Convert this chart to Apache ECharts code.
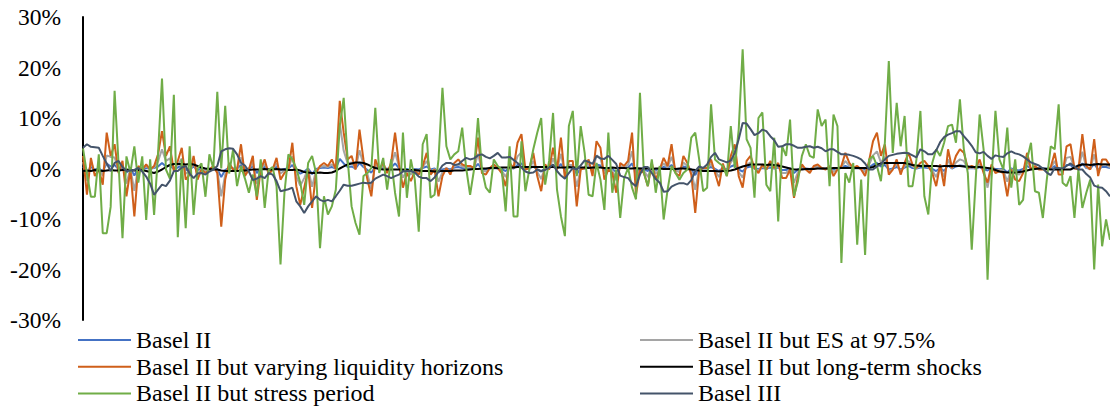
<!DOCTYPE html>
<html>
<head>
<meta charset="utf-8">
<script src="https://cdn.jsdelivr.net/npm/echarts@6/dist/echarts.min.js"></script>
<style>
  html, body { margin: 0; padding: 0; background: #fff; overflow: hidden; }
  #chart { width: 1110px; height: 409px; }
</style>
</head>
<body>
<div id="chart"></div>
<script>
// Daily P&L-style percentage changes for each capital measure (values in %)
const seriesNames = [
  'Basel II',
  'Basel II but ES at 97.5%',
  'Basel II but varying liquidity horizons',
  'Basel II but long-term shocks',
  'Basel II but stress period',
  'Basel III'
];

const baselII = [
  0.4,-0.8,0.3,-0.2,0.0,-0.5,1.0,0.4,0.7,-0.1,
  0.2,-0.8,0.0,-1.4,0.1,0.0,0.1,0.0,0.1,0.4,
  1.1,0.4,0.6,-0.1,0.2,0.6,-0.3,-0.2,0.4,-0.3,
  0.0,-0.1,0.0,0.1,-0.1,-1.7,-0.3,0.2,0.0,0.0,
  0.7,-0.2,0.0,0.4,-0.9,0.0,0.3,-0.2,0.0,0.3,
  -0.3,-0.1,0.0,0.7,-0.5,-1.0,-0.6,0.0,-1.1,-0.1,
  0.1,0.2,0.1,0.3,0.0,1.9,1.0,0.3,0.4,0.0,
  1.1,0.3,-0.3,-0.8,0.3,0.0,0.2,-0.1,0.2,1.0,
  0.1,-0.5,-0.1,-0.4,-0.1,-0.2,0.1,0.4,-0.2,0.0,
  -0.8,-0.2,0.0,-0.2,0.2,0.3,0.1,0.1,0.1,0.0,
  0.9,-0.1,-0.2,0.0,0.1,0.0,-0.1,-0.5,0.2,0.0,
  0.7,1.0,0.0,0.0,0.4,-0.2,-0.6,0.1,0.0,0.6,
  0.0,0.9,-0.3,0.2,0.2,-1.1,0.0,0.0,0.3,-0.2,
  0.8,0.6,-0.3,0.0,-0.1,-0.7,0.2,0.1,0.2,1.0,
  -0.8,0.0,-0.1,-0.5,0.2,-0.3,0.0,0.3,0.1,0.7,
  -0.1,-0.2,0.4,0.2,-0.2,-1.3,0.0,0.0,0.0,0.3,
  -0.1,-0.5,0.1,-0.2,0.4,0.7,-0.2,-0.6,0.2,0.4,
  0.0,-0.1,0.1,0.0,0.2,0.0,0.2,-0.3,-0.3,0.0,
  -0.9,-0.2,0.1,0.0,-0.1,0.1,0.1,0.0,0.0,0.1,
  -0.2,0.0,0.1,0.5,0.2,0.0,0.1,0.0,-0.2,0.2,
  0.8,1.1,0.4,0.7,-0.2,0.0,0.3,-0.2,0.2,0.5,
  0.1,0.0,0.2,0.2,0.1,-0.1,-0.5,0.1,-0.5,0.6,
  0.0,0.4,0.6,0.5,0.0,0.1,0.0,0.3,-0.1,-0.4,
  0.1,-0.1,-0.1,-0.1,-0.8,0.0,-0.3,-0.4,-0.1,0.5,
  0.0,0.1,0.0,0.0,0.0,0.0,0.5,-0.2,-0.2,0.7,
  0.7,0.0,0.0,1.0,0.1,0.0,0.9,-0.2,0.3,0.3,
  0.1
];

const esAt975 = [
  1.3,-2.4,1.2,-0.6,0.0,-1.4,2.6,2.3,2.2,-0.3,
  0.6,-3.0,0.0,-4.4,0.3,0.0,0.4,-0.1,0.2,1.4,
  3.8,1.5,2.0,-0.1,0.7,2.0,-1.0,-0.5,1.1,-1.1,
  -0.1,-0.4,-0.1,0.2,-0.5,-5.5,-1.2,0.5,-0.1,0.0,
  2.2,-0.7,-0.1,1.2,-3.0,-0.1,0.9,-0.6,-0.1,1.0,
  -1.0,-0.4,-0.1,2.4,-1.6,-3.4,-1.9,-0.1,-3.6,-0.4,
  0.3,0.5,0.3,0.8,0.0,9.0,3.5,1.0,1.2,-0.1,
  3.6,0.8,-1.1,-4.0,0.8,-0.1,0.5,-0.4,0.5,3.2,
  0.4,-1.8,-0.4,-1.2,-0.2,-0.6,0.3,1.5,-0.6,-0.1,
  -2.6,-0.7,0.0,-0.6,0.5,0.9,0.4,0.2,0.3,0.0,
  2.9,-0.4,-0.6,0.0,0.4,0.0,-0.4,-1.7,0.5,0.0,
  2.4,3.2,-0.1,0.0,1.5,-0.7,-2.1,0.4,-0.1,2.0,
  -0.1,2.9,-1.0,0.7,0.7,-3.6,-0.1,0.0,0.9,-0.7,
  2.6,2.0,-1.0,-0.1,-0.4,-2.3,0.5,0.2,0.7,3.4,
  -2.5,-0.1,-0.4,-1.7,0.5,-1.0,-0.1,1.0,0.2,2.3,
  -0.4,-0.7,1.2,0.5,-0.6,-4.2,-0.1,0.0,0.0,0.9,
  -0.4,-1.7,0.5,-0.7,1.2,2.3,-0.7,-1.8,0.7,1.2,
  0.0,-0.4,0.4,-0.1,0.7,0.0,0.5,-0.9,-0.9,-0.1,
  -2.8,-0.7,0.4,-0.1,-0.4,0.2,0.4,0.0,-0.1,0.2,
  -0.7,-0.1,0.2,1.5,0.5,0.0,0.2,-0.1,-0.7,0.7,
  2.6,3.4,1.2,2.3,-0.6,-0.1,0.9,-0.6,0.5,1.5,
  0.4,0.0,0.5,0.7,0.2,-0.4,-1.7,0.4,-1.7,1.8,
  0.0,1.2,1.8,1.5,0.0,0.2,0.0,0.9,-0.4,-3.8,
  0.4,-0.4,-0.2,-0.4,-2.6,-0.1,-1.0,-1.2,-0.4,1.5,
  -0.1,0.2,-0.1,-0.1,-0.1,0.1,1.5,-0.6,-0.6,2.1,
  2.3,0.0,-0.1,3.3,0.2,-0.1,2.8,-0.7,0.9,0.9,
  0.2
];

const varyingLiquidity = [
  2.5,-5.2,2.1,-1.5,-0.2,-3.2,7.1,2.5,4.8,-0.9,
  1.5,-5.5,-0.2,-9.5,0.5,-0.2,0.8,-0.2,0.5,2.8,
  7.4,2.5,4.4,-0.5,1.5,4.1,-2.2,-1.2,2.5,-2.2,
  -0.2,-0.9,-0.2,0.5,-0.9,-11.5,-2.2,1.1,-0.2,-0.2,
  4.8,-1.5,-0.2,2.5,-6.2,-0.2,1.8,-1.2,-0.2,2.1,
  -2.2,-0.9,-0.2,5.1,-3.5,-7.2,-3.8,-0.2,-7.8,-0.9,
  0.5,1.1,0.5,1.8,-0.2,13.4,7.1,1.8,2.5,-0.2,
  7.7,1.8,-2.2,-5.5,1.8,-0.2,1.1,-0.9,1.1,7.1,
  0.8,-3.8,-0.9,-2.5,-0.5,-1.2,0.5,3.1,-1.2,-0.2,
  -5.5,-1.5,0.1,-1.2,1.1,1.8,0.8,0.5,0.5,0.1,
  6.1,-0.9,-1.2,0.1,0.8,0.1,-0.9,-3.5,1.1,0.1,
  5.1,6.8,-0.2,0.1,3.1,-1.5,-4.5,0.8,-0.2,4.1,
  -0.2,6.1,-2.0,1.5,1.5,-7.5,-0.2,0.1,1.8,-1.5,
  5.4,4.1,-2.2,-0.2,-0.9,-4.8,1.1,0.5,1.5,7.1,
  -5.2,-0.2,-0.9,-3.5,1.1,-2.2,-0.2,2.1,0.5,4.8,
  -0.9,-1.5,2.5,1.1,-1.2,-8.8,-0.2,0.1,0.1,1.8,
  -0.9,-3.5,1.0,-1.5,2.5,4.8,-1.5,-3.8,1.5,2.5,
  0.1,-0.9,0.8,-0.2,1.5,0.1,1.1,-1.9,-1.9,-0.2,
  -5.8,-1.5,0.8,-0.2,-0.9,0.5,0.8,0.1,-0.2,0.5,
  -1.5,-0.2,0.5,3.1,1.1,0.1,0.5,-0.2,-1.5,1.5,
  5.4,7.1,2.5,4.8,-1.2,-0.2,1.8,-1.2,1.1,3.1,
  0.8,0.1,1.1,1.5,0.5,-0.9,-3.5,0.8,-3.5,3.8,
  0.1,2.5,3.8,3.1,0.1,0.5,0.1,1.8,-0.9,-2.8,
  0.8,-0.9,-0.5,-0.9,-5.5,-0.2,-2.2,-2.5,-0.9,3.1,
  -0.2,0.5,-0.2,-0.2,-0.2,0.3,3.1,-1.2,-1.2,4.4,
  4.8,0.1,-0.2,6.8,0.5,-0.2,5.8,-1.5,1.8,1.8,
  0.5
];

const longTermShocks = [
  -0.5,-0.4,-0.5,-0.3,-0.4,-0.5,-0.4,-0.3,-0.4,-0.4,
  -0.3,-0.2,-0.3,-0.4,-0.3,-0.3,-0.5,-0.7,-0.9,-0.6,
  -0.2,0.3,0.7,0.9,0.9,0.9,0.8,0.9,0.8,0.5,
  0.2,0.0,-0.1,-0.2,-0.2,-0.4,-0.5,-0.5,-0.5,-0.5,
  -0.4,-0.4,-0.3,-0.2,-0.2,-0.2,-0.1,-0.2,-0.2,-0.1,
  -0.2,-0.2,-0.3,-0.3,-0.2,-0.4,-0.7,-0.8,-0.9,-0.9,
  -0.8,-0.9,-0.9,-0.8,-0.5,0.0,0.4,0.8,1.0,1.2,
  1.2,1.1,0.8,0.4,0.1,-0.1,-0.2,-0.2,-0.2,-0.2,
  -0.2,-0.2,-0.3,-0.3,-0.3,-0.4,-0.5,-0.5,-0.5,-0.6,
  -0.5,-0.5,-0.5,-0.5,-0.4,-0.4,-0.4,-0.3,-0.2,-0.1,
  -0.1,0.0,0.0,0.1,0.1,0.1,0.2,0.2,0.2,0.2,
  0.3,0.3,0.3,0.3,0.3,0.3,0.3,0.3,0.3,0.3,
  0.2,0.2,0.2,0.3,0.2,0.2,0.2,0.2,0.1,0.2,
  0.2,0.2,0.1,0.1,0.2,0.1,0.1,0.1,0.0,0.0,
  0.1,0.0,0.0,0.0,-0.1,0.0,0.0,-0.1,-0.1,-0.1,
  -0.1,0.0,0.0,-0.1,-0.2,-0.3,-0.4,-0.5,-0.5,-0.5,
  -0.5,-0.6,-0.5,-0.5,-0.4,-0.2,0.1,0.4,0.6,0.8,
  0.8,0.8,0.8,0.7,0.8,0.7,0.6,0.4,0.2,0.0,
  -0.2,-0.2,-0.2,-0.1,-0.1,-0.1,0.0,0.0,0.0,0.0,
  0.1,0.1,0.1,0.1,0.1,0.1,0.1,0.1,0.1,0.1,
  0.3,0.7,1.0,1.1,1.1,1.1,1.1,1.1,1.1,0.9,
  0.7,0.6,0.5,0.5,0.5,0.5,0.5,0.4,0.5,0.5,
  0.5,0.5,0.5,0.4,0.4,0.3,0.3,0.3,0.2,0.1,
  0.0,-0.3,-0.6,-0.7,-0.8,-0.8,-0.8,-0.7,-0.6,-0.4,
  -0.2,-0.1,0.0,0.0,-0.1,-0.2,-0.2,-0.2,-0.2,-0.2,
  -0.2,0.2,0.6,0.8,0.8,0.7,0.8,0.9,0.8,0.8,
  0.8
];

const stressPeriod = [
  4,-1,-5.6,-5.6,2.8,-12.8,-12.8,-7.6,15.4,1,
  -13.8,2.4,-0.8,4.4,-2.8,2.4,-10.2,1.8,-9.2,3,
  17.8,-0.2,-2,14.6,-13.6,1.8,-11.8,4.4,-9.2,0,
  1,-5.6,2.8,0,15.2,0,12.4,-1,3.8,-3.5,
  0.5,-2,-4.8,-1.2,-5.5,1.8,-7.8,-0.3,0.3,-3.5,
  -19,-4.8,2.8,1.8,0,-2.8,-7.2,1.1,2.5,-0.9,
  -15.8,-5.5,-9.1,-7.5,-4.2,8.4,14,1.8,-7.5,-10.8,
  -13.1,-1.5,-0.9,0.1,12,-0.9,2.1,-4.2,1.8,-4.8,
  -9.5,7.1,-5.8,1.8,-2.2,-12.5,4.8,6.8,-5.8,-5.2,
  1.8,16,4.4,1.8,2.8,3.4,8.1,0.1,-5.2,-0.2,
  10,-0.2,-3.8,-4.8,1.8,0.5,-0.2,-8.5,4.4,-9.5,
  -9.5,5.4,-4.5,-0.2,3.8,7.1,10,-3.2,1.5,11,
  -4.2,-9.5,-13.4,8.4,11.4,-1.5,8.4,3.1,-5.2,-5.5,
  1.1,-2.2,-8.2,7.1,-4.8,-0.2,-9.8,-1.9,0.1,-3.8,
  -6.1,15,-0.9,-3.5,1.8,-4.8,0.5,-10.1,-4.2,0.5,
  -0.9,-2.2,-0.9,-0.2,6.1,7.1,1.8,-4.5,-3.8,12.7,
  1.8,1.1,0.5,-1.5,8.4,0.1,7.7,23.6,5.8,4.1,
  -5.8,10,11.1,-3.2,-4.5,6.1,-10.5,4.4,2.5,9.7,
  -5.5,-2.5,2.5,4.8,2.5,2.1,11.7,8.4,9.7,-3.5,
  10.7,8.4,-18.7,-0.9,-2.8,1.1,-15.1,-2.2,-17.1,1.8,
  2.5,0.5,-2.5,5.1,21.3,3.1,13,4.4,10.4,-3.5,
  -3.5,1.8,11.4,-5.5,-9.1,1.1,3.8,2.5,5.1,8.4,
  8.7,5.1,13.7,3.8,-0.9,-16.1,-2.2,10.7,3.8,-22,
  -2.2,11.4,1.8,-0.2,8.1,-3.8,1.8,-7.2,-6.2,1.8,
  5.1,-4.5,-4.8,-9.8,-2.2,4.4,3.8,12.7,-2.8,-3.5,
  -1.5,-9.8,-0.2,-7.8,-4.8,-2.2,-20,-3.2,-15.4,-10.1,
  -14.1
];

const baselIII = [
  4.1,4.8,4.3,4.2,4.1,2.5,1.0,-0.5,1.1,1.5,
  0.3,-0.5,-0.4,-0.3,0.1,-0.6,-1.6,-3.0,-5.2,-4.2,
  -3.2,-3.5,-2.4,-0.5,-0.5,0.2,0.5,-1.0,-1.9,-1.0,
  -0.9,-1.2,-0.6,-0.2,0.5,3.4,3.8,4.0,3.9,2.8,
  1.1,0.6,-0.6,-2.3,-2.0,-1.5,-1.9,-0.9,-1.2,-2.5,
  -4.5,-4.3,-4.1,-3.8,-6.5,-7.5,-8.8,-7.5,-6.5,-5.5,
  -6.2,-6.5,-6.2,-6.5,-5.5,-4.4,-3.2,-3.4,-3.4,-3.2,
  -3.0,-2.8,-2.9,-2.8,-2.0,-1.6,-1.2,-1.5,-1.9,-1.5,
  -1.2,-0.6,-0.5,-0.5,-0.8,-1.6,-1.9,-1.9,-2.5,-1.8,
  -0.6,0.6,1.1,1.1,0.7,0.8,1.5,2.1,1.8,2.0,
  2.6,2.8,2.3,2.0,2.5,3.1,2.2,2.2,2.3,1.7,
  1.1,0.2,-0.6,-0.9,-0.8,-0.2,-0.5,-0.3,0.2,0.8,
  -0.5,-1.4,-2.0,-0.9,0.1,-0.2,0.6,1.6,1.3,0.9,
  2.5,2.0,1.9,2.5,1.7,0.9,-1.4,-1.7,-1.9,-2.9,
  -3.5,-1.2,0.3,0.3,-0.9,-2.1,-2.8,-4.6,-4.5,-3.6,
  -3.2,-2.9,-2.9,-3.2,-2.3,-0.5,0.4,0.1,0.8,2.3,
  3.1,1.8,1.5,1.2,1.6,3.1,5.8,9.0,8.9,7.8,
  6.6,7.0,7.7,7.4,6.4,5.6,4.3,4.4,4.8,4.8,
  4.5,4.1,4.1,4.3,4.4,4.1,4.3,4.0,3.4,3.8,
  3.8,3.3,2.8,2.8,2.7,2.5,2.2,1.8,1.0,-0.2,
  -0.2,0.4,0.8,1.8,2.5,2.7,2.9,3.0,3.1,3.0,
  2.6,2.2,3.8,3.4,2.8,2.8,3.6,5.2,6.2,6.7,
  7.0,7.4,7.4,6.4,5.5,4.5,3.2,3.0,3.3,2.5,
  1.9,2.6,2.4,2.3,3.0,3.4,3.0,2.8,2.4,1.8,
  1.2,0.9,0.6,0.0,-0.8,-1.3,0.1,0.1,0.0,0.5,
  1.0,0.4,-0.2,-0.2,-1.1,-1.8,-3.4,-3.7,-3.8,-4.5,
  -5.5
];

// One category per observation day
const days = baselII.map((_, i) => String(i + 1));

// Value axis range and step, in percent
const yMin = -30, yMax = 30, yStep = 10;

const seriesData = [baselII, esAt975, varyingLiquidity, longTermShocks, stressPeriod, baselIII];
const seriesColors = ['#4472C4', '#A5A5A5', '#CF5F1A', '#000000', '#70AD47', '#44546A'];
const seriesWidths = [2, 2, 2, 2, 2, 2];

const serifFont = '"Liberation Serif", "Times New Roman", serif';
const legendText = { fontFamily: serifFont, fontSize: 24, color: '#000', lineHeight: 24 };

// Legend columns: plain line swatches, three entries each
function legendColumn(left, names) {
  return {
    orient: 'vertical', left: left, top: 328, height: 81,
    padding: 0, icon: 'rect',
    itemWidth: 53, itemHeight: 2, itemGap: 2.7,
    selectedMode: false, textStyle: legendText,
    data: names
  };
}

const chart = echarts.init(document.getElementById('chart'), null, { renderer: 'svg' });

chart.setOption({
  animation: false,
  backgroundColor: '#fff',
  grid: { left: 83, right: 0, top: 17, bottom: 89, containLabel: false },
  legend: [
    legendColumn(78, [seriesNames[0], seriesNames[2], seriesNames[4]]),
    legendColumn(640, [seriesNames[1], seriesNames[3], seriesNames[5]])
  ],
  xAxis: {
    type: 'category',
    data: days,
    boundaryGap: false,
    axisLine: { show: false },
    axisTick: { show: false },
    axisLabel: { show: false },
    splitLine: { show: false }
  },
  yAxis: {
    type: 'value',
    min: yMin, max: yMax, interval: yStep,
    axisLine: { show: true, lineStyle: { color: '#000', width: 2 } },
    axisTick: { show: false },
    splitLine: { show: false },
    axisLabel: {
      formatter: '{value}%',
      fontFamily: serifFont, fontSize: 23.5, color: '#000', margin: 22
    }
  },
  series: seriesNames.map((name, k) => ({
    name,
    type: 'line',
    data: seriesData[k],
    symbol: 'none',
    smooth: false,
    color: seriesColors[k],
    lineStyle: { color: seriesColors[k], width: seriesWidths[k] },
    emphasis: { disabled: true }
  }))
});
</script>
</body>
</html>
